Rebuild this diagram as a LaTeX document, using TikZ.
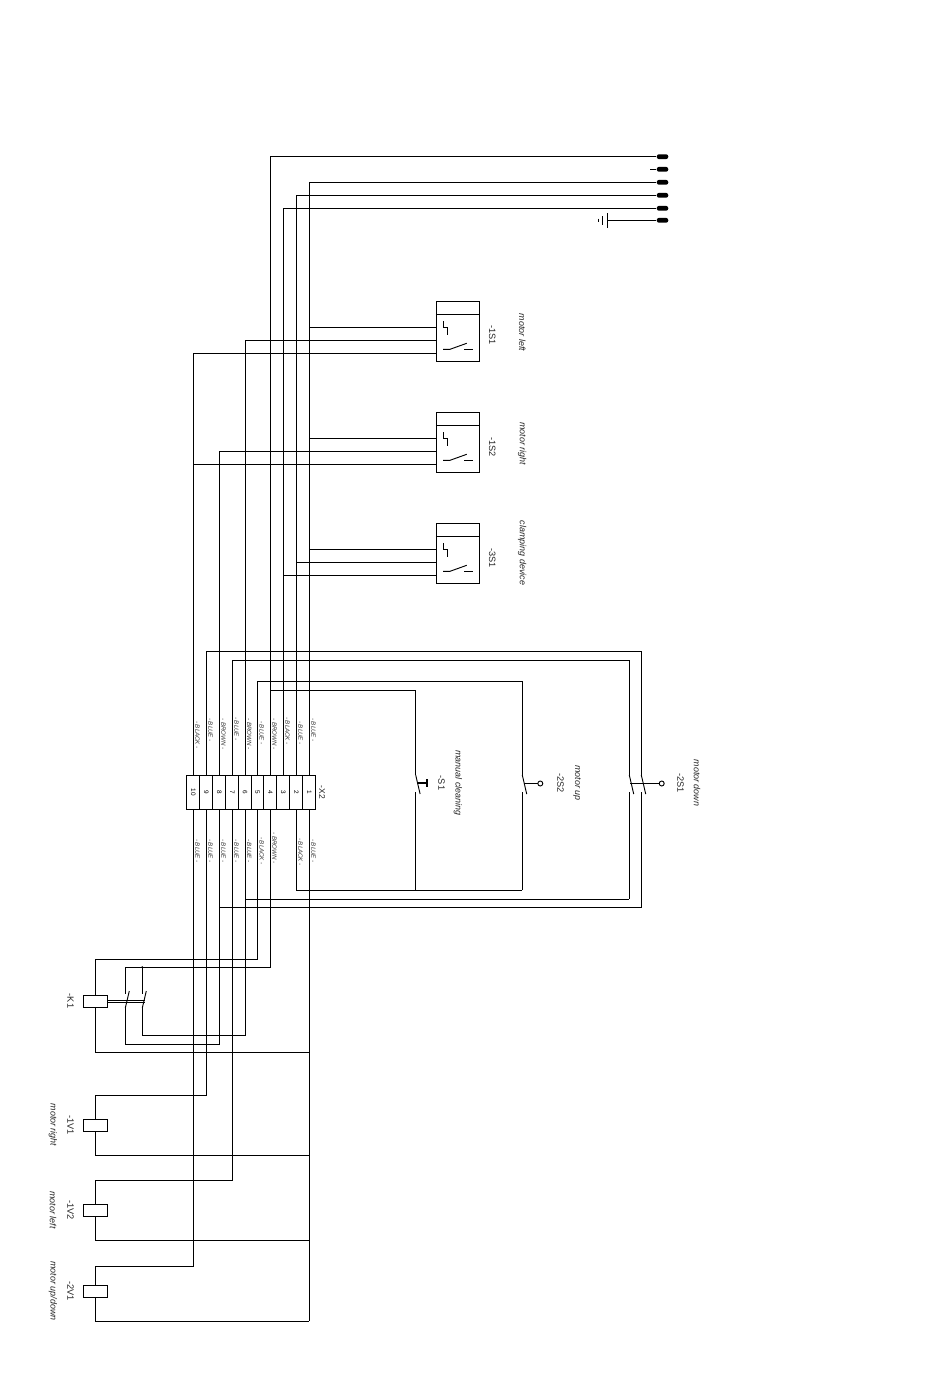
\documentclass[tikz,border=0pt]{standalone}
\usepackage{fontspec}
\setmainfont{Liberation Sans}
\usetikzlibrary{positioning, calc}

\begin{document}
\begin{tikzpicture}[
    x=0.75pt, y=-0.75pt,
    line width=0.7pt,
    terminal/.style={draw, rectangle, inner sep=0pt, minimum height=25.5pt, font=\fontsize{4.8}{5}\selectfont},
    wirelabel/.style={rotate=-90, inner sep=0pt, font=\fontsize{4.6}{5}\selectfont\itshape, text=black!80},
    tag/.style={rotate=-90, inner sep=0pt, font=\fontsize{6.9}{8}\selectfont, text=black!85},
    note/.style={rotate=-90, inner sep=0pt, font=\fontsize{6.7}{8}\selectfont\itshape, text=black!85},
    pinend/.style={fill=black, rectangle, rounded corners=1.7pt, inner sep=0pt, minimum width=8.7pt, minimum height=3.6pt},
    coil/.style={draw, rectangle, inner sep=0pt, minimum width=18.3pt, minimum height=9pt},
    switchbox/.style={draw, rectangle, inner sep=0pt, minimum width=32.25pt, minimum height=44.8pt},
    actuator/.style={line width=1.3pt}
]
    \useasboundingbox (0,0) rectangle (950,1378);

    % terminal strip
    \foreach \n/\xpos/\termwidth/\ytop/\colortop/\ybot/\colorbot in {
        1/309.3/9.75/730/BLUE/851/BLUE, 2/296.3/9.75/733/BLUE/852/BLACK, 3/283.3/9.75/731/BLACK//,
        4/270.3/9.75/734/BROWN/848/BROWN, 5/257.55/9.375/733/BLUE/851/BLACK, 6/245.05/9.375/734/BROWN/851/BLUE,
        7/232.3/9.75/729/BLUE/851/BLUE, 8/219.3/9.75/734/BROWN/851/BLUE, 9/206.3/9.75/730/BLUE/851/BLUE,
        10/193.3/9.75/735/BLACK/851/BLUE} {
        \node[terminal, minimum width=\termwidth pt] (t\n) at (\xpos,792.3) {\rotatebox{-90}{\n}};
        \node[wirelabel] (up\n) at ({\xpos+4.2},\ytop) {- \colortop\ -};
        \ifx\ybot\empty\else
            \node[wirelabel] (lo\n) at ({\xpos+4.2},\ybot) {- \colorbot\ -};
        \fi
    }
    \node[rotate=-90, inner sep=0pt, font=\fontsize{6.4}{7}\selectfont, text=black!85] (x2) at (322,792.5) {-X2};

    % supply pins
    \foreach \n/\ypos in {0/156.7, 1/169.3, 2/182.3, 3/195.3, 4/208.3, 5/220.3} {
        \node[pinend] (p\n) at (662.5,\ypos) {};
    }
    \coordinate (stub) at (650,169.3);
    \coordinate (gnd) at (607.3,220.3);
    \draw (t4.north) |- (p0.west);
    \draw (stub) -- (p1.west);
    \draw (t1.north) |- (p2.west);
    \draw (t2.north) |- (p3.west);
    \draw (t3.north) |- (p4.west);
    \draw (gnd) -- (p5.west);
    \draw (607.3,213.3) -- (607.3,227.7);
    \draw (602.7,216) -- (602.7,225);
    \draw (598.3,218.7) -- (598.3,222.3);

    % selector switches
    \foreach \name/\dy/\code/\codey/\notetext/\notey in {
        a/0/-1S1/335/motor left/332.5,
        b/111/-1S2/447/motor right/443.5,
        c/222/-3S1/558/clamping device/553} {
        \node[switchbox] (\name) at (457.8,{331.2+\dy}) {};
        \coordinate (\name1) at (436.3,{327.3+\dy});
        \coordinate (\name2) at (436.3,{340.3+\dy});
        \coordinate (\name3) at (436.3,{353.3+\dy});
        \draw (\name.west |- 0,{314.3+\dy}) -- (\name.east |- 0,{314.3+\dy});
        \draw (443,{321+\dy}) -- (443,{327+\dy}) -- (447.7,{327+\dy}) -- (447.7,{335+\dy});
        \draw (443,{349.3+\dy}) -- (450,{349.3+\dy}) -- (466.7,{343.3+\dy});
        \draw (464,{349.3+\dy}) -- (473.3,{349.3+\dy});
        \node[tag] (\name code) at (492.3,\codey) {\code};
        \node[note] (\name note) at (522.3,\notey) {\notetext};
    }
    \draw (a1) -- (a1 -| t1.north);
    \draw (t6.north) |- (a2);
    \draw (t10.north) |- (a3);
    \draw (b1) -- (b1 -| t1.north);
    \draw (t8.north) |- (b2);
    \draw (t10.north) |- (b3);
    \draw (c1) -- (c1 -| t1.north);
    \draw (t2.north) |- (c2);
    \draw (t3.north) |- (c3);

    % hand switches
    \coordinate (s1top) at (415.7,690.7);
    \coordinate (s1up) at (415.7,775);
    \coordinate (s1lo) at (415.7,792);
    \coordinate (s2top) at (522.3,681.3);
    \coordinate (s2up) at (522.3,775);
    \coordinate (s2lo) at (522.3,792);
    \coordinate (s3top) at (629.3,660.3);
    \coordinate (s3up) at (629.3,775);
    \coordinate (s3lo) at (629.3,792);
    \coordinate (s4top) at (641.3,651.3);
    \coordinate (s4up) at (641.3,775);
    \coordinate (s4lo) at (641.3,792);
    \coordinate (s1bot) at (415.7,890.3);
    \coordinate (s2bot) at (522.3,890.3);
    \coordinate (s3bot) at (629.3,899.3);
    \coordinate (s4bot) at (641.3,907.7);
    \foreach \s in {s1,s2,s3,s4} {
        \draw (\s up) -- ($(\s up)+(4.4,19)$);
    }
    \draw (t4.north |- s1top) -- (s1top) -- (s1up);
    \draw (t5.north) |- (s2top) -- (s2up);
    \draw (t7.north) |- (s3top) -- (s3up);
    \draw (t9.north) |- (s4top) -- (s4up);
    \draw (s1lo) -- (s1bot);
    \draw (s2lo) -- (s2bot);
    \draw (s3lo) -- (s3bot);
    \draw (s4lo) -- (s4bot);
    \draw (t2.south) |- (s2bot);
    \draw (t6.south) |- (s3bot);
    \draw (t8.south) |- (s4bot);
    \draw[actuator] (418,782.7) -- (426.7,782.7);
    \draw[actuator] (426.7,779) -- (426.7,786.7);
    \draw[actuator] (524.3,783.5) -- (537.7,783.5);
    \draw (540.3,783.5) circle (2.5);
    \draw[actuator] (630,783.5) -- (659,783.5);
    \draw (661.7,783.5) circle (2.5);
    \node[tag] (s1code) at (441.5,783) {-S1};
    \node[note] (s1note) at (458,783) {manual cleaning};
    \node[tag] (s2code) at (560.5,783) {-2S2};
    \node[note] (s2note) at (577,783) {motor up};
    \node[tag] (s3code) at (680.5,783) {-2S1};
    \node[note] (s3note) at (697,783) {motor down};

    % relay and valve coils
    \foreach \name/\cy/\ya/\yb/\feed in {
        k1/1001.3/959.3/1052.3/5,
        v1/1125.3/1095.3/1155.3/9,
        v2/1210.3/1180.3/1240.3/7,
        v3/1291.3/1266.3/1321.3/10} {
        \node[coil] (\name) at (95.4,\cy) {};
        \coordinate (\name a) at (95.4,\ya);
        \coordinate (\name b) at (95.4,\yb);
        \draw (t\feed.south) |- (\name a) -- (\name.north);
        \draw (\name.south) -- (\name b) -- (\name b -| t1.south);
    }
    \draw (t1.south) -- (v3b -| t1.south);
    \node[tag] (k1code) at (70.5,1001) {-K1};
    \node[tag] (v1code) at (70.5,1125) {-1V1};
    \node[note] (v1note) at (53,1125) {motor right};
    \node[tag] (v2code) at (70.5,1210) {-1V2};
    \node[note] (v2note) at (53,1210) {motor left};
    \node[tag] (v3code) at (70.5,1291) {-2V1};
    \node[note] (v3note) at (53,1291) {motor up/down};

    % relay contacts
    \coordinate (k1s) at (125.3,967.3);
    \coordinate (k2s) at (142.3,967.3);
    \coordinate (k1e) at (125.3,1044.3);
    \coordinate (k2e) at (142.3,1035.3);
    \draw (t4.south) |- (k1s) -- (125.3,994);
    \draw (k2s) -- (142.3,994);
    \fill (k2s) circle (1.2);
    \draw (125.3,1008) -- (129.3,991);
    \draw (142.3,1008) -- (146.3,991);
    \draw (t8.south) |- (k1e) -- (125.3,1008);
    \draw (t6.south) |- (k2e) -- (142.3,1008);
    \draw (k1.east |- 0,1000.4) -- (145.3,1000.4);
    \draw (k1.east |- 0,1002.2) -- (145.3,1002.2);
\end{tikzpicture}
\end{document}
